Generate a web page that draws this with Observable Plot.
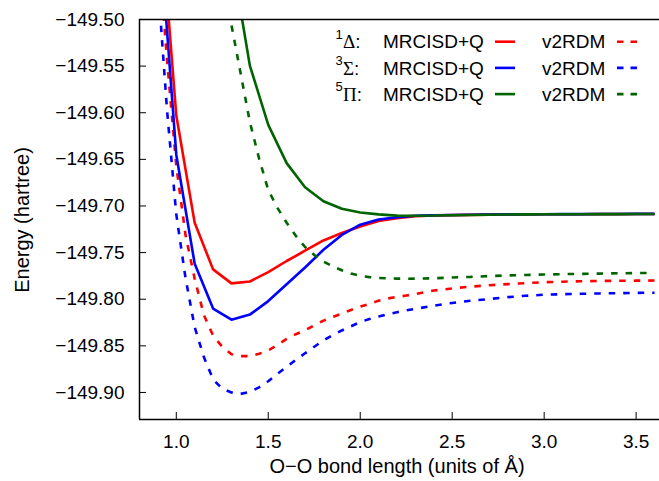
<!DOCTYPE html>
<html><head><meta charset="utf-8">
<script src="https://cdn.jsdelivr.net/npm/d3@7"></script>
<script src="https://cdn.jsdelivr.net/npm/@observablehq/plot@0.6"></script>
<style>
html,body{margin:0;padding:0;background:#fff;}
#wrap{position:relative;width:659px;height:481px;overflow:hidden;}
#wrap svg{display:block;}
#overlay{position:absolute;left:0;top:0;pointer-events:none;}
</style></head><body><div id="wrap"></div>
<script>
// ---- data ----
const xSolid = [0.9,1.0,1.1,1.2,1.3,1.4,1.5,1.6,1.7,1.8,1.9,2.0,2.1,2.2,2.3,2.4,2.5,2.6,2.7,2.8,2.9,3.0,3.1,3.2,3.3,3.4,3.5,3.6];
const deltaMRCI = [-149.352,-149.603,-149.718,-149.768,-149.783,-149.781,-149.771,-149.759,-149.748,-149.737,-149.729,-149.722,-149.716,-149.713,-149.711,-149.7102,-149.7098,-149.7095,-149.7093,-149.7091,-149.709,-149.7089,-149.7088,-149.7088,-149.7087,-149.7087,-149.7086,-149.7086];
const sigmaMRCI = [-149.381,-149.645,-149.762,-149.810,-149.822,-149.8165,-149.802,-149.784,-149.766,-149.747,-149.731,-149.720,-149.7145,-149.712,-149.7105,-149.7099,-149.7096,-149.7094,-149.7092,-149.709,-149.7089,-149.7088,-149.7087,-149.7087,-149.7086,-149.7086,-149.7085,-149.7085];
const xPiSolid = [1.3,1.4,1.5,1.6,1.7,1.8,1.9,2.0,2.1,2.2,2.3,2.4,2.5,2.6,2.7,2.8,2.9,3.0,3.1,3.2,3.3,3.4,3.5,3.6];
const piMRCI = [-149.432,-149.5495,-149.613,-149.654,-149.680,-149.695,-149.703,-149.707,-149.709,-149.7103,-149.7104,-149.7102,-149.7099,-149.7096,-149.7094,-149.7092,-149.709,-149.7089,-149.7088,-149.7088,-149.7087,-149.7087,-149.7086,-149.7086];

const xDashed = [0.90,0.95,1.00,1.05,1.10,1.15,1.20,1.25,1.30,1.35,1.40,1.45,1.50,1.55,1.60,1.65,1.70,1.75,1.80,1.85,1.90,1.95,2.00,2.05,2.10,2.15,2.20,2.25,2.30,2.4,2.5,2.6,2.7,2.8,2.9,3.0,3.1,3.2,3.3,3.4,3.5,3.6];
const deltaV2 = [-149.417,-149.544,-149.657,-149.731,-149.778,-149.817,-149.839,-149.851,-149.859,-149.861,-149.861,-149.8585,-149.855,-149.849,-149.8426,-149.8375,-149.8333,-149.828,-149.823,-149.819,-149.8153,-149.8115,-149.808,-149.805,-149.8015,-149.7992,-149.7975,-149.7961,-149.7944,-149.7907,-149.7884,-149.7865,-149.785,-149.7838,-149.7827,-149.7818,-149.7812,-149.7807,-149.7804,-149.7802,-149.7801,-149.780];
const sigmaV2 = [-149.46,-149.598,-149.709,-149.777,-149.830,-149.862,-149.886,-149.896,-149.900,-149.9015,-149.8995,-149.8945,-149.888,-149.880,-149.8725,-149.865,-149.858,-149.851,-149.8442,-149.8386,-149.8335,-149.829,-149.8245,-149.8212,-149.8186,-149.8161,-149.814,-149.812,-149.8103,-149.807,-149.804,-149.8017,-149.7998,-149.7978,-149.7963,-149.7952,-149.7946,-149.7942,-149.7938,-149.7935,-149.7932,-149.793];
const xPiDashed = [1.25,1.30,1.35,1.40,1.45,1.50,1.55,1.60,1.65,1.70,1.75,1.80,1.85,1.90,1.95,2.00,2.05,2.10,2.15,2.20,2.25,2.30,2.4,2.5,2.6,2.7,2.8,2.9,3.0,3.1,3.2,3.3,3.4,3.5,3.6];
const piV2 = [-149.445,-149.506,-149.558,-149.610,-149.649,-149.683,-149.702,-149.718,-149.732,-149.744,-149.7525,-149.7597,-149.7647,-149.769,-149.7725,-149.775,-149.7763,-149.7772,-149.7777,-149.7779,-149.778,-149.7779,-149.7775,-149.7767,-149.776,-149.7752,-149.7745,-149.774,-149.7735,-149.7731,-149.7728,-149.7725,-149.7722,-149.772,-149.7717];

const states = ["1\u0394", "3\u03A3", "5\u03A0"];
const stateSup = ["1", "3", "5"];
const stateGreek = ["\u0394", "\u03A3", "\u03A0"];
const methods = ["MRCISD+Q", "v2RDM"];
const colors = ["#ff0000", "#0000ff", "#006400"];

const xTicks = [1.0, 1.5, 2.0, 2.5, 3.0, 3.5];
const yTicks = [-149.90, -149.85, -149.80, -149.75, -149.70, -149.65, -149.60, -149.55, -149.50];
const xDomain = [0.8, 3.627];
const yDomain = [-149.929, -149.5];
const xLabel = "O\u2212O bond length (units of \u00C5)";
const yLabel = "Energy (hartree)";

// ---- build ----
const zip = (xs, ys) => xs.map((x, i) => ({x, y: ys[i]}));
const series = [
  {d: zip(xSolid, deltaMRCI), c: colors[0], dash: null},
  {d: zip(xDashed, deltaV2), c: colors[0], dash: "6.5,8"},
  {d: zip(xSolid, sigmaMRCI), c: colors[1], dash: null},
  {d: zip(xDashed, sigmaV2), c: colors[1], dash: "6.5,8"},
  {d: zip(xPiSolid, piMRCI), c: colors[2], dash: null},
  {d: zip(xPiDashed, piV2), c: colors[2], dash: "6.5,8"}
];

const W = 659, H = 481, mL = 139, mR = 0, mT = 19, mB = 62;
const plotW = W - mL - mR, plotH = H - mT - mB;

const chart = Plot.plot({
  width: W, height: H,
  marginLeft: mL, marginRight: mR, marginTop: mT, marginBottom: mB,
  style: {fontFamily: "'Liberation Sans', Arial, sans-serif", fontSize: "19px", background: "#fff", color: "#000"},
  x: {domain: xDomain, label: null},
  y: {domain: yDomain, label: null},
  marks: [
    ...series.map(s => Plot.line(s.d, {x: "x", y: "y", stroke: s.c, strokeWidth: 2.6, strokeDasharray: s.dash, clip: true, strokeLinejoin: "miter", strokeLinecap: "butt"})),
    Plot.tickY(yTicks, {y: d => d, insetRight: plotW - 7, stroke: "#000", strokeWidth: 1}),
    Plot.tickX(xTicks, {x: d => d, insetTop: plotH - 7, stroke: "#000", strokeWidth: 1}),
    Plot.ruleX([xDomain[0]], {stroke: "#000", strokeWidth: 1.5}),
    Plot.ruleY(yDomain, {stroke: "#000", strokeWidth: 1.5}),
    Plot.axisY({ticks: yTicks, tickSize: 0, tickPadding: 15, tickFormat: d3.format(".2f"), label: null}),
    Plot.axisX({ticks: xTicks, tickSize: 0, tickPadding: 15, tickFormat: d3.format(".1f"), label: null})
  ]
});
const wrap = document.getElementById("wrap");
wrap.appendChild(chart);

// overlay: legend + axis titles
const ov = d3.select(wrap).append("svg").attr("id", "overlay").attr("width", W).attr("height", H)
  .style("font-family", "'Liberation Sans', Arial, sans-serif").style("font-size", "19px");
ov.append("text").attr("x", 397).attr("y", 473).attr("text-anchor", "middle").style("font-size", "20px").text(xLabel);
ov.append("text").attr("transform", "translate(28.5,220) rotate(-90)").attr("text-anchor", "middle").style("font-size", "20px").text(yLabel);

states.forEach((st, i) => {
  const yb = 48.3 + 26.2 * i;
  ov.append("text").attr("x", 335.5).attr("y", yb - 9.5).style("font-size", "13px").text(stateSup[i]);
  const t = ov.append("text").attr("x", 343).attr("y", yb);
  t.append("tspan").style("font-family", "'Liberation Serif', 'Times New Roman', serif").style("font-size", "19px").text(stateGreek[i]);
  t.append("tspan").text(":");
  ov.append("text").attr("x", 383).attr("y", yb).text(methods[0]);
  ov.append("line").attr("x1", 495).attr("x2", 515).attr("y1", yb - 6.6).attr("y2", yb - 6.6)
    .attr("stroke", colors[i]).attr("stroke-width", 2.6);
  ov.append("text").attr("x", 542).attr("y", yb).text(methods[1]);
  ov.append("line").attr("x1", 617).attr("x2", 637).attr("y1", yb - 6.6).attr("y2", yb - 6.6)
    .attr("stroke", colors[i]).attr("stroke-width", 2.6).attr("stroke-dasharray", "6.5,7");
});
</script></body></html>
